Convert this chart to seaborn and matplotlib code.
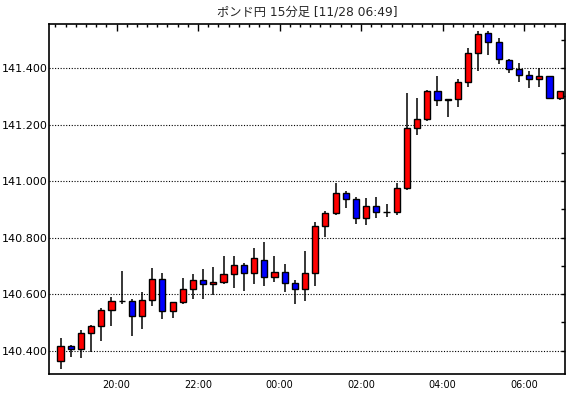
import numpy as np
import pandas as pd
import matplotlib
matplotlib.use("Agg")
import matplotlib.pyplot as plt
import seaborn as sns

# 15 minute candles, GBP/JPY, 18:30 -> 06:45
start_time = "2013-11-27 18:30"
opens = [140.362, 140.415, 140.404, 140.461, 140.486, 140.542, 140.574, 140.575, 140.523, 140.578,
         140.652, 140.539, 140.571, 140.617, 140.648, 140.634, 140.642, 140.671, 140.703, 140.673,
         140.722, 140.659, 140.677, 140.638, 140.617, 140.673, 140.840, 140.886, 140.956, 140.935,
         140.868, 140.910, 140.889, 140.889, 140.974, 141.187, 141.218, 141.319, 141.288, 141.289,
         141.350, 141.452, 141.523, 141.491, 141.427, 141.395, 141.374, 141.360, 141.371, 141.293]
highs = [140.444, 140.418, 140.472, 140.490, 140.549, 140.588, 140.681, 140.582, 140.607, 140.692,
         140.674, 140.571, 140.656, 140.671, 140.688, 140.696, 140.734, 140.734, 140.710, 140.763,
         140.784, 140.734, 140.706, 140.648, 140.751, 140.855, 140.894, 140.993, 140.964, 140.943,
         140.939, 140.943, 140.920, 140.993, 141.313, 141.294, 141.322, 141.372, 141.289, 141.360,
         141.470, 141.531, 141.531, 141.505, 141.433, 141.418, 141.389, 141.399, 141.371, 141.318]
lows = [140.336, 140.378, 140.372, 140.396, 140.435, 140.488, 140.566, 140.452, 140.477, 140.558,
        140.513, 140.516, 140.564, 140.581, 140.581, 140.595, 140.634, 140.621, 140.612, 140.636,
        140.629, 140.644, 140.608, 140.566, 140.574, 140.627, 140.801, 140.881, 140.905, 140.849,
        140.845, 140.870, 140.874, 140.881, 140.968, 141.163, 141.212, 141.267, 141.228, 141.263,
        141.334, 141.390, 141.448, 141.413, 141.381, 141.349, 141.330, 141.334, 141.289, 141.286]
closes = [140.415, 140.404, 140.461, 140.486, 140.542, 140.574, 140.575, 140.523, 140.578, 140.652,
          140.539, 140.571, 140.617, 140.648, 140.634, 140.642, 140.671, 140.703, 140.673, 140.726,
          140.659, 140.677, 140.638, 140.617, 140.673, 140.840, 140.886, 140.956, 140.935, 140.868,
          140.910, 140.889, 140.890, 140.974, 141.187, 141.218, 141.319, 141.288, 141.289, 141.350,
          141.452, 141.519, 141.491, 141.431, 141.395, 141.374, 141.360, 141.371, 141.293, 141.318]
y_ticks = [140.4, 140.6, 140.8, 141.0, 141.2, 141.4]
title = "ポンド円 15分足 [11/28 06:49]"

df = pd.DataFrame({"open": opens, "high": highs, "low": lows, "close": closes})
df["time"] = pd.date_range(start_time, periods=len(df), freq="15min")
df["x"] = np.arange(len(df))
df["up"] = df["close"] >= df["open"]

sns.set_style("white")
plt.rcParams["font.family"] = ["DejaVu Sans", "Noto Sans CJK JP"]

fig = plt.figure(figsize=(5.7, 3.98), dpi=100)
ax = fig.add_axes([49 / 570, 24 / 398, 516 / 570, 350 / 398])

# dotted grid on the labelled levels
for lvl in y_ticks:
    ax.axhline(lvl, color="black", linestyle=(0, (1, 1.5)), linewidth=0.8, zorder=0)

# wicks then bodies
ax.vlines(df["x"], df["low"], df["high"], color="black", linewidth=1.1, zorder=1)
body_bottom = df[["open", "close"]].min(axis=1)
body_height = (df["close"] - df["open"]).abs()
colors = np.where(df["up"], "#ff0000", "#0000ff")
ax.bar(df["x"], body_height, bottom=body_bottom, width=0.6, color=colors,
       edgecolor="black", linewidth=1.0, zorder=2)

ax.set_xlim(-1.13, len(df) - 0.48)
ax.set_ylim(140.317, 141.556)

# ticks: every candle on x, major every 2 hours
minor_x = df["x"] - 0.5
major_mask = (df["time"].dt.minute == 0) & (df["time"].dt.hour % 2 == 0)
ax.set_xticks(minor_x[major_mask])
ax.set_xticklabels(df["time"][major_mask].dt.strftime("%H:%M"))
ax.set_xticks(minor_x, minor=True)
ax.set_yticks(y_ticks)
ax.set_yticklabels([f"{v:.3f}" for v in y_ticks])
ax.set_yticks(np.arange(140.4, 141.51, 0.1), minor=True)

ax.tick_params(axis="both", which="both", direction="in", top=True, right=True,
               colors="black", width=1.0)
ax.tick_params(axis="x", which="major", length=5, pad=4, labelsize=7)
ax.tick_params(axis="x", which="minor", length=2.5)
ax.tick_params(axis="y", which="both", length=3, pad=1, labelsize=8)

for sp in ax.spines.values():
    sp.set_visible(True)
    sp.set_color("black")
    sp.set_linewidth(1.2)

fig.text(307 / 570, 1 - 12 / 398, title, ha="center", va="center", fontsize=8.8)

fig.savefig("out.png", dpi=100)
